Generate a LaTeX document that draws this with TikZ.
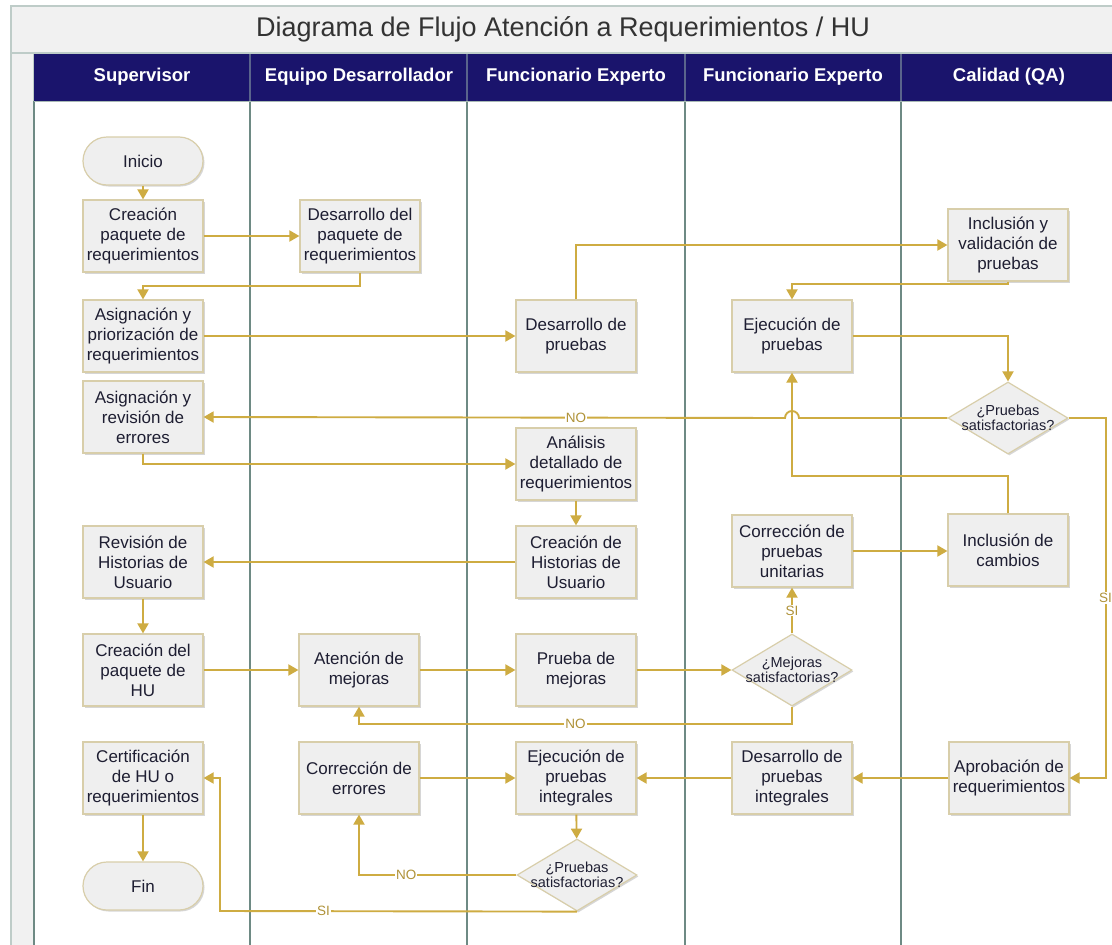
\documentclass[tikz,border=0pt]{standalone}
\usepackage{fontspec}
\setmainfont{Liberation Sans}
\usetikzlibrary{arrows.meta,shapes.geometric,shadows,calc}
\definecolor{navy}{RGB}{26,20,108}
\definecolor{gold}{RGB}{206,172,66}
\definecolor{boxfill}{RGB}{239,239,239}
\definecolor{boxline}{RGB}{216,206,170}
\definecolor{lane}{RGB}{110,138,132}
\definecolor{band}{RGB}{241,241,241}
\definecolor{bandline}{RGB}{190,204,200}
\definecolor{txt}{RGB}{30,30,50}
\definecolor{hdrsep}{RGB}{90,100,140}
\begin{document}
\begin{tikzpicture}[x=1pt,y=-1pt,
  shadowed/.style={drop shadow={shadow xshift=1.5pt, shadow yshift=-1.5pt, fill=black!35, opacity=0.45}},
  proc/.style={draw=boxline, line width=1.2pt, fill=boxfill, minimum width=120pt, minimum height=72pt, inner sep=0pt, align=center, font=\fontsize{17}{20}\selectfont, text=txt, shadowed},
  term/.style={proc, rounded corners=24pt, minimum height=48pt},
  dia/.style={diamond, draw=boxline, line width=1.2pt, fill=boxfill, minimum width=120pt, minimum height=72pt, inner sep=0pt, shadowed},
  diatext/.style={align=center, font=\fontsize{14.5}{15.5}\selectfont, text=txt, inner sep=0pt},
  conn/.style={draw=gold, line width=1.9pt, -{Triangle[length=10pt,width=11pt]}},
  lbl/.style={fill=white, text=gold!85!black, font=\fontsize{13.5}{14}\selectfont, inner sep=1pt},
  hdr/.style={text=white, font=\fontsize{18.5}{20}\bfseries\selectfont},
]
\useasboundingbox (0,0) rectangle (1112,945);
\clip (0,0) rectangle (1112,945);
\fill[white] (0,0) rectangle (1112,945);
% frame and title band
\draw[bandline, line width=1.5pt, fill=band] (11,6) rectangle (1130,53);
\draw[bandline, line width=1.5pt, fill=band] (11,53) rectangle (34,960);
\node[font=\fontsize{27}{30}\selectfont, text=black!80] (title) at (563,29) {Diagrama de Flujo Atención a Requerimientos / HU};
% header
\fill[navy] (34,54) rectangle (1130,101);
\foreach \xx in {250,467,685,901} \draw[hdrsep, line width=1.2pt] (\xx,54) -- (\xx,101);
\node[hdr] (h1) at (142,77) {Supervisor};
\node[hdr] (h2) at (359,77) {Equipo Desarrollador};
\node[hdr] (h3) at (576,77) {Funcionario Experto};
\node[hdr] (h4) at (793,77) {Funcionario Experto};
\node[hdr] (h5) at (1009,77) {Calidad (QA)};
% lanes
\foreach \xx in {34,250,467,685,901} \draw[lane, line width=1.8pt] (\xx,101) -- (\xx,960);
\draw[lane!60, line width=0.8pt] (34,101) -- (1130,101);

% nodes
\node[term] (ini) at (143,161) {Inicio};
\node[proc] (cpr) at (143,236) {Creación\\paquete de\\requerimientos};
\node[proc] (dpr) at (360,236) {Desarrollo del\\paquete de\\requerimientos};
\node[proc] (apr) at (143,336) {Asignación y\\priorización de\\requerimientos};
\node[proc] (are) at (143,417) {Asignación y\\revisión de\\errores};
\node[proc] (dpu) at (576,336) {Desarrollo de\\pruebas};
\node[proc] (epu) at (792,336) {Ejecución de\\pruebas};
\node[proc] (ivp) at (1008,245) {Inclusión y\\validación de\\pruebas};
\node[dia] (ps1) at (1008,418) {};
\node[diatext] (ps1t) at (ps1) {¿Pruebas\\satisfactorias?};
\node[proc] (adr) at (576,464) {Análisis\\detallado de\\requerimientos};
\node[proc] (chu) at (576,562) {Creación de\\Historias de\\Usuario};
\node[proc] (rhu) at (143,562) {Revisión de\\Historias de\\Usuario};
\node[proc] (cpu) at (792,551) {Corrección de\\pruebas\\unitarias};
\node[proc] (ica) at (1008,550) {Inclusión de\\cambios};
\node[proc] (cph) at (143,670) {Creación del\\paquete de\\HU};
\node[proc] (ame) at (359,670) {Atención de\\mejoras};
\node[proc] (pme) at (576,670) {Prueba de\\mejoras};
\node[dia] (ms) at (792,670) {};
\node[diatext] (mst) at (ms) {¿Mejoras\\satisfactorias?};
\node[proc] (chr) at (143,778) {Certificación\\de HU o\\requerimientos};
\node[proc] (cer) at (359,778) {Corrección de\\errores};
\node[proc] (epi) at (576,778) {Ejecución de\\pruebas\\integrales};
\node[proc] (dpi) at (792,778) {Desarrollo de\\pruebas\\integrales};
\node[proc] (apq) at (1009,778) {Aprobación de\\requerimientos};
\node[term] (fin) at (143,886) {Fin};
\node[dia] (ps2) at (577,875) {};
\node[diatext] (ps2t) at (ps2) {¿Pruebas\\satisfactorias?};
\coordinate (siturn) at (220,911);

% connectors
\draw[conn] (ini) -- (cpr);
\draw[conn] (cpr) -- (dpr);
\draw[conn] (dpr.south) -- ++(0,13) -| (apr.north);
\draw[conn] (apr.east) -- (apr.east -| dpu.west);
\draw[conn] (dpu.north) |- (ivp.west);
\draw[conn] (ivp.south) -- ++(0,2) -| (epu.north);
\draw[conn] (epu.east) -| (ps1.north);
\draw[conn] (ps1.west) -- ([xshift=7pt]epu.south |- ps1.west) arc[start angle=0, end angle=180, radius=7pt] -- (are.east);
\node[lbl] (no1) at (dpu.south |- ps1.west) {NO};
\draw[conn] (ps1.east) -- ++(37,0) |- node[lbl, pos=0.25] (si1) {SI} (apq.east);
\draw[conn] (are.south) |- (adr.west);
\draw[conn] (adr) -- (chu);
\draw[conn] (chu) -- (rhu);
\draw[conn] (rhu) -- (cph);
\draw[conn] (cph) -- (ame);
\draw[conn] (ame) -- (pme);
\draw[conn] (pme) -- (ms);
\draw[conn] (ms.north) -- node[lbl] (si2) {SI} (cpu.south);
\draw[conn] (ms.south) -- ++(0,17) -| node[lbl, pos=0.25] (no2) {NO} (ame.south);
\draw[conn] (cpu.east) -- (cpu.east -| ica.west);
\draw[conn] (ica.north) -- ++(0,-37) -| (epu.south);
\draw[conn] (apq) -- (dpi);
\draw[conn] (dpi) -- (epi);
\draw[conn] (cer) -- (epi);
\draw[conn] (epi) -- (ps2);
\draw[conn] (ps2.west) -| node[lbl, pos=0.35] (no3) {NO} (cer.south);
\draw[conn] (ps2.south) -- node[lbl, pos=0.71] (si3) {SI} (siturn) |- (chr.east);
\draw[conn] (chr) -- (fin);
\end{tikzpicture}
\end{document}
